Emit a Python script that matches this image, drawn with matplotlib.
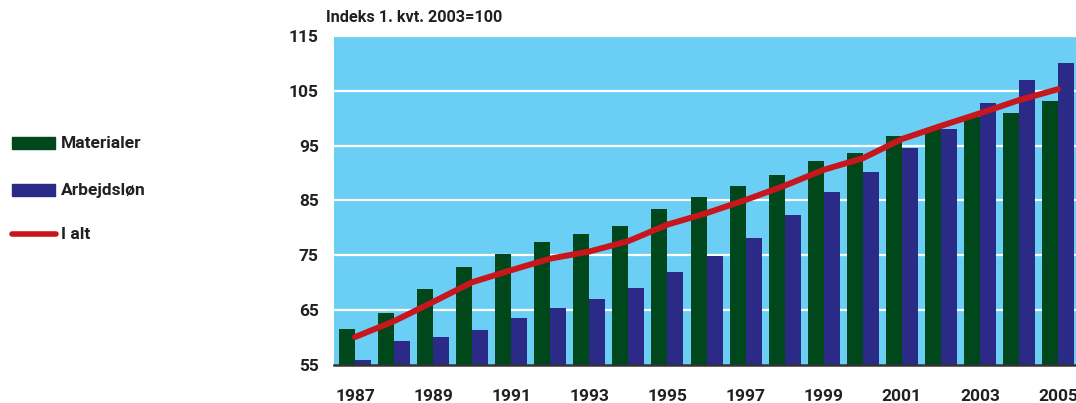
import matplotlib
matplotlib.use("Agg")
import matplotlib.pyplot as plt
import numpy as np
from matplotlib.patches import Rectangle
from matplotlib.lines import Line2D

years = list(range(1987, 2006))
materialer = [61.6, 64.5, 68.9, 72.9, 75.3, 77.4, 78.9, 80.4, 83.5, 85.7,
              87.7, 89.7, 92.2, 93.6, 96.7, 98.2, 100.3, 101.0, 103.2]
arbejdslon = [55.9, 59.4, 60.1, 61.4, 63.6, 65.4, 67.0, 69.1, 72.0, 74.9,
              78.2, 82.4, 86.6, 90.2, 94.6, 98.1, 102.8, 107.0, 110.1]
i_alt = [60.1, 63.0, 66.5, 70.1, 72.3, 74.4, 75.7, 77.6, 80.6, 82.7,
         85.1, 87.7, 90.6, 92.7, 96.2, 98.6, 100.9, 103.3, 105.3]
yticks = [55, 65, 75, 85, 95, 105, 115]
xtick_labels = [str(y) for y in years[::2]]
legend_labels = ["Materialer", "Arbejdsløn", "I alt"]
title = "Indeks 1. kvt. 2003=100"

FONT = ["Roboto", "DejaVu Sans"]
plt.rcParams["font.family"] = FONT
TXT = "#231f20"
GREEN = "#00471b"
BLUE = "#2b2a86"
RED = "#c8161d"
BG = "#6bcff5"

W, H = 1076, 403
fig = plt.figure(figsize=(W / 100, H / 100), dpi=100)
ax = fig.add_axes([334 / W, 1 - 365 / H, (1076 - 334) / W, (365 - 36) / H])
ax.set_facecolor(BG)

x = np.arange(len(years))
bw = 0.41
ax.bar(x - bw, [m - 55 for m in materialer], width=bw, bottom=55, align="edge",
       color=GREEN, zorder=3)
ax.bar(x, [a - 55 for a in arbejdslon], width=bw, bottom=55, align="edge",
       color=BLUE, zorder=3)
ax.plot(x, i_alt, color=RED, lw=4.3, solid_capstyle="round", zorder=4)

ax.set_xlim(-0.538, 18.46)
ax.set_ylim(55, 115)
ax.set_yticks(yticks)
ax.set_yticklabels([str(t) for t in yticks])
ax.set_xticks(x[::2])
ax.set_xticklabels(xtick_labels)
for yv in yticks[1:]:
    ax.axhline(yv, color="white", lw=1.6, zorder=1)
ax.tick_params(axis="both", length=0, labelsize=12.5, colors=TXT)
ax.tick_params(axis="x", pad=17)
ax.tick_params(axis="y", pad=11)
for lab in ax.get_xticklabels() + ax.get_yticklabels():
    lab.set_fontweight("bold")
for s in ["left", "right", "top"]:
    ax.spines[s].set_visible(False)
ax.spines["bottom"].set_color("#333333")
ax.spines["bottom"].set_linewidth(1.8)
ax.spines["bottom"].set_zorder(5)

fig.text(326 / W, 1 - 17 / H, title, ha="left", va="center", fontsize=11.7,
         fontweight="bold", color=TXT)

# legend
def fx(px):
    return px / W

def fy(py):
    return 1 - py / H

rows = [143, 190, 234]
fig.add_artist(Rectangle((fx(12), fy(149)), fx(43), 12 / H, color=GREEN,
                         transform=fig.transFigure))
fig.add_artist(Rectangle((fx(12), fy(196)), fx(43), 12 / H, color=BLUE,
                         transform=fig.transFigure))
fig.add_artist(Line2D([fx(12), fx(56)], [fy(234), fy(234)], color=RED, lw=4,
                      solid_capstyle="round", transform=fig.transFigure))
for ry, lab in zip(rows, legend_labels):
    fig.text(fx(61), fy(ry), lab, ha="left", va="center", fontsize=12.5,
             fontweight="bold", color=TXT)

fig.savefig("out.png", dpi=100)
